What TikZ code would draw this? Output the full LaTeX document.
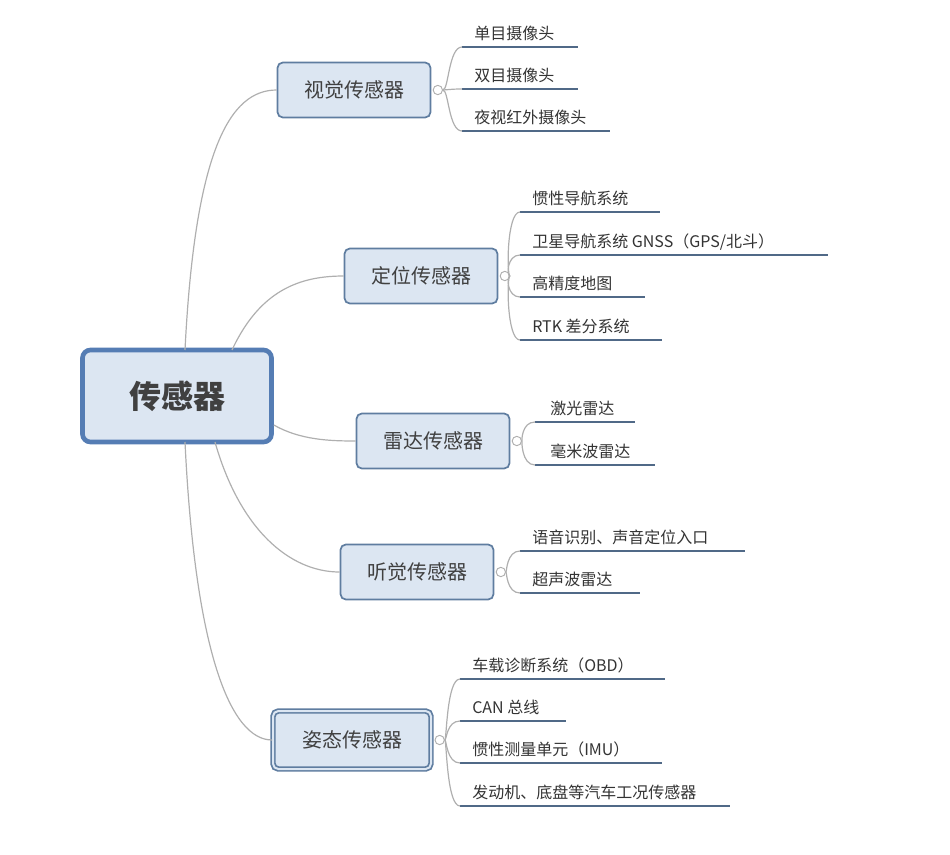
\documentclass[tikz,border=0pt]{standalone}
\usepackage{fontspec}
\setmainfont{Noto Sans CJK SC}
\usetikzlibrary{positioning}
\definecolor{boxfill}{RGB}{220,230,242}
\definecolor{boxline}{RGB}{95,125,160}
\definecolor{rootline}{RGB}{85,125,180}
\definecolor{uline}{RGB}{80,105,135}
\definecolor{conn}{RGB}{175,175,175}
\tikzset{
  rootbox/.style={draw=rootline, line width=3.5pt, fill=boxfill, rounded corners=6pt, minimum width=189*0.75pt, minimum height=92*0.75pt, font=\fontsize{24}{28}\selectfont\bfseries, text=black!75},
  branchbox/.style={draw=boxline, line width=1.3pt, fill=boxfill, rounded corners=4pt, minimum width=153*0.75pt, minimum height=55*0.75pt, font=\fontsize{15}{18}\selectfont, text=black!75},
  leaftext/.style={anchor=base west, inner sep=0pt, font=\fontsize{12}{14}\selectfont, text=black!80},
  underl/.style={draw=uline, line width=2pt},
  link/.style={draw=conn, line width=0.9pt},
  knob/.style={circle, draw=conn, line width=0.7pt, fill=white, inner sep=0pt, minimum size=7pt}
}
\begin{document}
\begin{tikzpicture}[x=0.75pt,y=0.75pt,yscale=-1,xscale=1]
        \useasboundingbox (0,0) rectangle (950,854);

        % root
        \node [rootbox] (root) at (177,396) {传感器};

        % branches
        \node [branchbox] (vis) at (354,90) {视觉传感器};
        \node [branchbox] (pos) at (421,276) {定位传感器};
        \node [branchbox] (rad) at (433,441) {雷达传感器};
        \node [branchbox] (aud) at (417,572) {听觉传感器};
        \node [branchbox, double=boxfill, double distance=1.5pt, minimum width=158*0.75pt, minimum height=58*0.75pt] (att) at (352,740) {姿态传感器};

        % root to branches
        \draw [link] (185,350) .. controls (195,150) and (230,90) .. (vis.west);
        \draw [link] (232,350) .. controls (260,290) and (300,276) .. (pos.west);
        \draw [link] (root.east |- 0,425) .. controls (300,440) and (330,441) .. (rad.west);
        \draw [link] (215,442) .. controls (240,530) and (290,572) .. (aud.west);
        \draw [link] (185,442) .. controls (195,650) and (230,740) .. (att.west);

        % knobs
        \node [knob, right=1pt of vis.east] (kvis) {};
        \node [knob, right=1pt of pos.east] (kpos) {};
        \node [knob, right=1pt of rad.east] (krad) {};
        \node [knob, right=1pt of aud.east] (kaud) {};
        \node [knob, right=2pt of att.east] (katt) {};

        % vision leaves
        \coordinate (u11) at (462,47);
        \coordinate (u12) at (462,89);
        \coordinate (u13) at (462,131);
        \node [leaftext] (l11) at (474,39) {单目摄像头};
        \node [leaftext] (l12) at (474,81) {双目摄像头};
        \node [leaftext] (l13) at (474,123) {夜视红外摄像头};
        \draw [underl] (u11) -- +(116,0);
        \draw [underl] (u12) -- +(116,0);
        \draw [underl] (u13) -- +(148,0);

        % positioning leaves
        \coordinate (u21) at (520,212);
        \coordinate (u22) at (520,255);
        \coordinate (u23) at (520,297);
        \coordinate (u24) at (520,340);
        \node [leaftext] (l21) at (532,204) {惯性导航系统};
        \node [leaftext] (l22) at (532,247) {卫星导航系统 GNSS（GPS/北斗）};
        \node [leaftext] (l23) at (532,289) {高精度地图};
        \node [leaftext] (l24) at (532,332) {RTK 差分系统};
        \draw [underl] (u21) -- +(140,0);
        \draw [underl] (u22) -- +(308,0);
        \draw [underl] (u23) -- +(125,0);
        \draw [underl] (u24) -- +(142,0);

        % radar leaves
        \coordinate (u31) at (535,422);
        \coordinate (u32) at (535,465);
        \node [leaftext] (l31) at (550,414) {激光雷达};
        \node [leaftext] (l32) at (550,457) {毫米波雷达};
        \draw [underl] (u31) -- +(100,0);
        \draw [underl] (u32) -- +(120,0);

        % hearing leaves
        \coordinate (u41) at (520,551);
        \coordinate (u42) at (520,593);
        \node [leaftext] (l41) at (532,543) {语音识别、声音定位入口};
        \node [leaftext] (l42) at (532,585) {超声波雷达};
        \draw [underl] (u41) -- +(225,0);
        \draw [underl] (u42) -- +(120,0);

        % attitude leaves
        \coordinate (u51) at (460,679);
        \coordinate (u52) at (460,721);
        \coordinate (u53) at (460,763);
        \coordinate (u54) at (460,806);
        \node [leaftext] (l51) at (472,671) {车载诊断系统（OBD）};
        \node [leaftext] (l52) at (472,713) {CAN 总线};
        \node [leaftext] (l53) at (472,755) {惯性测量单元（IMU）};
        \node [leaftext] (l54) at (472,798) {发动机、底盘等汽车工况传感器};
        \draw [underl] (u51) -- +(205,0);
        \draw [underl] (u52) -- +(106,0);
        \draw [underl] (u53) -- +(202,0);
        \draw [underl] (u54) -- +(270,0);

        % knob to leaves
        \foreach \k/\u in {kvis/u11,kvis/u12,kvis/u13,kpos/u21,kpos/u22,kpos/u23,kpos/u24,krad/u31,krad/u32,kaud/u41,kaud/u42,katt/u51,katt/u52,katt/u53,katt/u54}
          \draw [link] (\k.east) .. controls ([xshift=-10pt]\u |- \k.east) and ([xshift=-10pt]\u) .. (\u);

\end{tikzpicture}
\end{document}
